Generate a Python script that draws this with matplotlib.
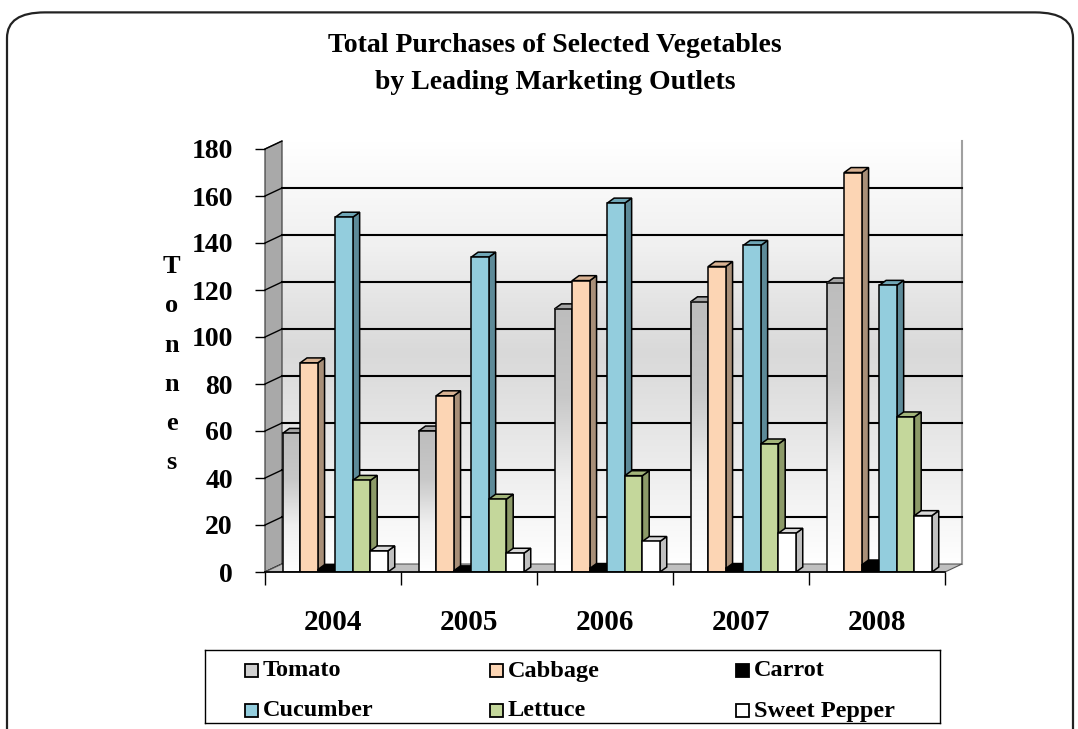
import matplotlib
matplotlib.use("Agg")
import matplotlib.pyplot as plt
import numpy as np
from matplotlib.patches import Polygon, Rectangle, FancyBboxPatch
from matplotlib.colors import LinearSegmentedColormap

years = ["2004", "2005", "2006", "2007", "2008"]
vegetables = ["Tomato", "Cabbage", "Carrot", "Cucumber", "Lettuce", "Sweet Pepper"]

tomato = [59, 60, 112, 115, 123]
cabbage = [89, 75, 124, 130, 170]
carrot = [1, 0.5, 1.5, 1.5, 3]
cucumber = [151, 134, 157, 139, 122]
lettuce = [39, 31, 41, 54.5, 66]
sweet_pepper = [9, 8, 13, 16.5, 24]

series = [tomato, cabbage, carrot, cucumber, lettuce, sweet_pepper]
front_colors = ["#d0d0d0", "#fcd5b4", "#000000", "#93cddd", "#c4d79b", "#ffffff"]
side_colors = ["#8c8c8c", "#a88f78", "#000000", "#5d8a98", "#8c9a68", "#c0c0c0"]
top_colors = ["#a6a6a6", "#d9b394", "#000000", "#6fa6b6", "#a3b57a", "#d9d9d9"]

serif = "Liberation Serif"
W, H = 1078, 729
fig = plt.figure(figsize=(W / 100, H / 100), dpi=100)

# rounded frame of the chart area
frame = FancyBboxPatch((7 / W, -0.05), 1066 / W, 1.033, boxstyle="round,pad=0,rounding_size=0.035",
                       transform=fig.transFigure, facecolor="white", edgecolor="#222222",
                       linewidth=1.6, zorder=-5)
fig.patches.append(frame)

fig.text(0.515, 0.912, "Total Purchases of Selected Vegetables\nby Leading Marketing Outlets",
         ha="center", va="center", fontsize=20, fontweight="bold", family=serif, linespacing=1.6)

ax = fig.add_axes([265 / W, (H - 572) / H, 680 / W, 423 / H])
ax.set_facecolor("none")

# depth of the walls and of the bars (data units)
wall_dx, wall_dy = 0.125, 3.4
bar_dx, bar_dy = 0.05, 2.1
bar_w = 0.129
group_off = 0.13
n_cat = len(years)

# back wall with a grey gradient
wall_cmap = LinearSegmentedColormap.from_list("wall", ["#ffffff", "#f0f0f0", "#d9d9d9", "#ebebeb", "#ffffff"])
grad = np.linspace(0, 1, 256).reshape(-1, 1)
ax.imshow(grad, cmap=wall_cmap, aspect="auto", origin="upper",
          extent=[wall_dx, n_cat + wall_dx, wall_dy, 180 + wall_dy], zorder=0.5, clip_on=False)
ax.plot([n_cat + wall_dx, n_cat + wall_dx], [wall_dy, 180 + wall_dy], color="#a0a0a0", lw=1.5,
        zorder=0.6, clip_on=False)

# side wall
ax.add_patch(Polygon([[0, 0], [0, 180], [wall_dx, 180 + wall_dy], [wall_dx, wall_dy]],
                     closed=True, facecolor="#a9a9a9", edgecolor="#444444", lw=0.9, zorder=0.7, clip_on=False))

# gridlines on back wall and side wall
for v in range(0, 181, 20):
    if 0 < v < 180:
        ax.plot([wall_dx, n_cat + wall_dx], [v + wall_dy, v + wall_dy], color="black", lw=1.5,
                zorder=0.8, clip_on=False)
    ax.plot([0, wall_dx], [v, v + wall_dy], color="black", lw=1.0, zorder=0.9, clip_on=False)

# floor
ax.add_patch(Polygon([[0, 0], [n_cat, 0], [n_cat + wall_dx, wall_dy], [wall_dx, wall_dy]],
                     closed=True, facecolor="#c0c0c0", edgecolor="#555555", lw=0.8, zorder=0.9, clip_on=False))

tomato_cmap = LinearSegmentedColormap.from_list("tom", ["#ffffff", "#f0f0f0", "#c8c8c8", "#bdbdbd"])

z = 2
for i in range(n_cat):
    for j, vals in enumerate(series):
        h = vals[i]
        x0 = i + group_off + j * bar_w
        side = Polygon([[x0 + bar_w, 0], [x0 + bar_w + bar_dx, bar_dy],
                        [x0 + bar_w + bar_dx, h + bar_dy], [x0 + bar_w, h]],
                       closed=True, facecolor=side_colors[j], edgecolor="black", lw=1.1, zorder=z)
        top = Polygon([[x0, h], [x0 + bar_w, h], [x0 + bar_w + bar_dx, h + bar_dy], [x0 + bar_dx, h + bar_dy]],
                      closed=True, facecolor=top_colors[j], edgecolor="black", lw=1.1, zorder=z)
        ax.add_patch(side)
        ax.add_patch(top)
        if vegetables[j] == "Tomato":
            ax.imshow(np.linspace(0, 1, 128).reshape(-1, 1), cmap=tomato_cmap, aspect="auto",
                      origin="lower", extent=[x0, x0 + bar_w, 0, h], zorder=z + 0.1)
            ax.add_patch(Rectangle((x0, 0), bar_w, h, facecolor="none", edgecolor="black", lw=1.1, zorder=z + 0.2))
        else:
            ax.add_patch(Rectangle((x0, 0), bar_w, h, facecolor=front_colors[j], edgecolor="black",
                                   lw=1.1, zorder=z + 0.2))
        z += 1

ax.set_xlim(0, n_cat)
ax.set_ylim(0, 180)
for s in ["top", "right"]:
    ax.spines[s].set_visible(False)
ax.spines["left"].set_visible(False)
ax.spines["bottom"].set_linewidth(1.2)
ax.spines["bottom"].set_zorder(50)

ax.set_yticks(range(0, 181, 20))
ax.tick_params(axis="y", length=7.2, width=1.0, pad=16, labelsize=20)
ax.set_xticks(range(0, n_cat + 1))
ax.set_xticklabels([""] * (n_cat + 1))
ax.tick_params(axis="x", which="major", length=9, width=1.0)
ax.set_xticks(np.arange(n_cat) + 0.5, minor=True)
ax.set_xticklabels(years, minor=True)
ax.tick_params(axis="x", which="minor", length=0, pad=27, labelsize=21)
for lab in ax.get_yticklabels() + ax.get_xticklabels(minor=True):
    lab.set_fontfamily(serif)
    lab.set_fontweight("bold")

ax.set_ylabel("T\no\nn\nn\ne\ns", rotation=0, fontsize=19, fontweight="bold", family=serif,
              linespacing=1.9, va="center", ha="center")
ax.yaxis.set_label_coords(-0.137, 0.49)

# legend box
lax = fig.add_axes([205 / W, (H - 723) / H, 735 / W, 73 / H])
lax.set_xlim(0, 735)
lax.set_ylim(73, 0)
lax.set_xticks([])
lax.set_yticks([])
for s in lax.spines.values():
    s.set_linewidth(1.0)
col_x = [40, 285, 531]
row_y = [20, 60]
order = [[0, 1, 2], [3, 4, 5]]
for r, row in enumerate(order):
    for c, j in enumerate(row):
        lax.add_patch(Rectangle((col_x[c], row_y[r] - 6.5), 13, 13, facecolor=front_colors[j],
                                edgecolor="black", lw=1.3))
        lax.text(col_x[c] + 18, row_y[r] + 1, vegetables[j], va="center", ha="left",
                 fontsize=17.5, fontweight="bold", family=serif)

fig.savefig("out.png", dpi=100)
